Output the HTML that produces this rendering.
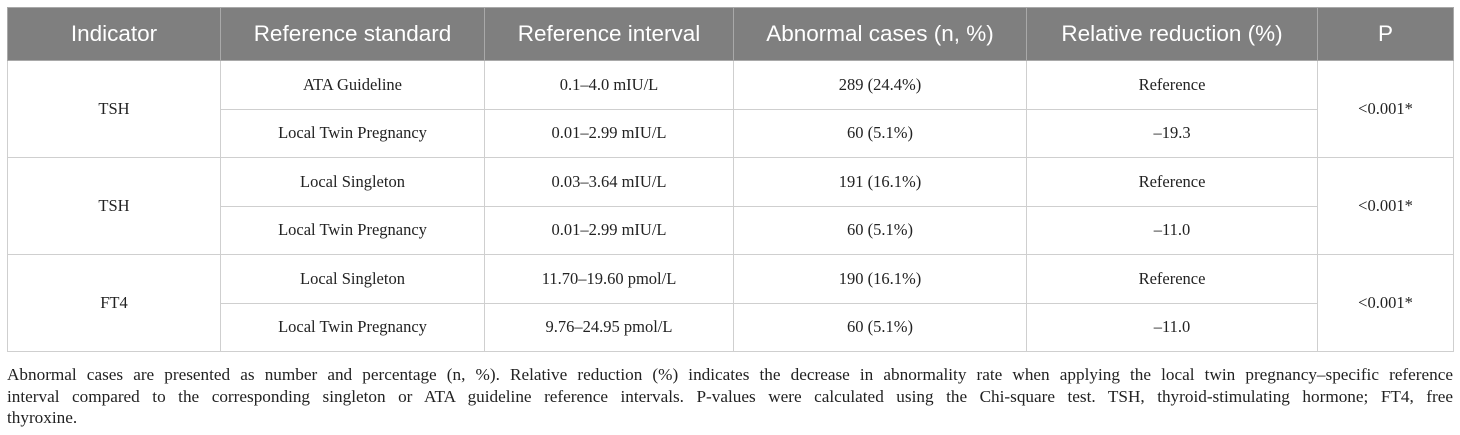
<!DOCTYPE html>
<html><head><meta charset="utf-8"><style>
body{margin:0;width:1460px;height:435px;background:#fff;overflow:hidden;font-family:"Liberation Serif",serif;}
table{position:absolute;left:7px;top:7px;border-collapse:collapse;table-layout:fixed;width:1446px;}
th{background:#7f7f7f;color:#fff;font-family:"Liberation Sans",sans-serif;font-weight:normal;font-size:22.5px;height:52px;padding:0;border:1px solid #a9a9a9;text-align:center;}
td{border:1px solid #cfcfcf;height:47.5px;padding:0;text-align:center;font-size:16.5px;color:#222;}
.note{position:absolute;left:7px;top:364px;width:1446px;font-size:17.2px;line-height:21.5px;color:#222;}
.note div{white-space:nowrap;}
.note .j{text-align:justify;text-align-last:justify;white-space:normal;}
</style></head><body>
<table>
<colgroup><col style="width:213px"><col style="width:264px"><col style="width:249px"><col style="width:293px"><col style="width:291px"><col style="width:136px"></colgroup>
<tr><th>Indicator</th><th>Reference standard</th><th>Reference interval</th><th>Abnormal cases (n, %)</th><th>Relative reduction (%)</th><th>P</th></tr>
<tr><td rowspan="2">TSH</td><td>ATA Guideline</td><td>0.1–4.0 mIU/L</td><td>289 (24.4%)</td><td>Reference</td><td rowspan="2">&lt;0.001*</td></tr>
<tr><td>Local Twin Pregnancy</td><td>0.01–2.99 mIU/L</td><td>60 (5.1%)</td><td>–19.3</td></tr>
<tr><td rowspan="2">TSH</td><td>Local Singleton</td><td>0.03–3.64 mIU/L</td><td>191 (16.1%)</td><td>Reference</td><td rowspan="2">&lt;0.001*</td></tr>
<tr><td>Local Twin Pregnancy</td><td>0.01–2.99 mIU/L</td><td>60 (5.1%)</td><td>–11.0</td></tr>
<tr><td rowspan="2">FT4</td><td>Local Singleton</td><td>11.70–19.60 pmol/L</td><td>190 (16.1%)</td><td>Reference</td><td rowspan="2">&lt;0.001*</td></tr>
<tr><td>Local Twin Pregnancy</td><td>9.76–24.95 pmol/L</td><td>60 (5.1%)</td><td>–11.0</td></tr>
</table>
<div class="note">
<div class="j">Abnormal cases are presented as number and percentage (n, %). Relative reduction (%) indicates the decrease in abnormality rate when applying the local twin pregnancy–specific reference</div>
<div class="j">interval compared to the corresponding singleton or ATA guideline reference intervals. P-values were calculated using the Chi-square test. TSH, thyroid-stimulating hormone; FT4, free</div>
<div>thyroxine.</div>
</div>
</body></html>
